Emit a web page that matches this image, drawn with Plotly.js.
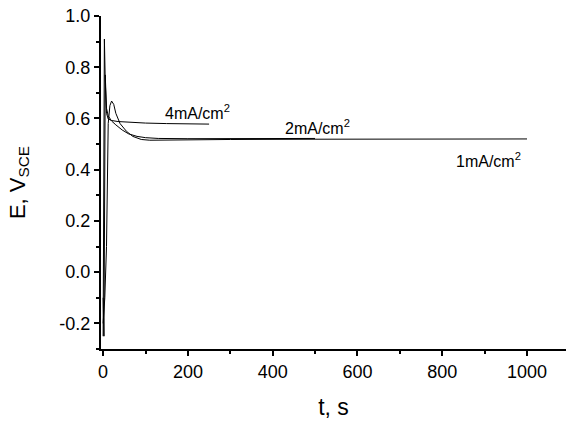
<!DOCTYPE html>
<html><head><meta charset="utf-8">
<script src="https://cdn.plot.ly/plotly-3.0.1.min.js"></script>
<style>html,body{margin:0;padding:0;background:#fff}</style>
</head><body><div id="chart" style="width:566px;height:421px"></div>
<script>
// 4 mA/cm2 series
const t4 = [0, 1, 3, 5, 8, 12, 20, 35, 60, 100, 150, 200, 250];
const e4 = [-0.25, 0.3, 0.91, 0.75, 0.62, 0.598, 0.592, 0.588, 0.585, 0.582, 0.580, 0.578, 0.578];
// 2 mA/cm2 series
const t2 = [0, 2, 5, 8, 12, 20, 30, 45, 60, 80, 100, 130, 200, 300, 400, 500];
const e2 = [-0.1, -0.25, 0.77, 0.64, 0.61, 0.59, 0.575, 0.555, 0.54, 0.53, 0.525, 0.522, 0.521, 0.522, 0.523, 0.522];
// 1 mA/cm2 series
const t1 = [0, 4, 8, 10, 12, 16, 20, 25, 30, 40, 55, 70, 90, 110, 150, 300, 500, 700, 1000];
const e1 = [-0.2, -0.1, 0.1, 0.45, 0.58, 0.65, 0.668, 0.655, 0.62, 0.58, 0.55, 0.53, 0.518, 0.515, 0.516, 0.518, 0.519, 0.52, 0.52];
// labels
const labelText = ["4mA/cm<sup>2</sup>", "2mA/cm<sup>2</sup>", "1mA/cm<sup>2</sup>"];
const labelT = [222, 505, 910];
const labelE = [0.625, 0.566, 0.437];
const yTickVals = [-0.2, 0.0, 0.2, 0.4, 0.6, 0.8, 1.0];
const yTickText = ["-0.2", "0.0", "0.2", "0.4", "0.6", "0.8", "1.0"];
const xTickVals = [0, 200, 400, 600, 800, 1000];

const lineStyle = {color: '#000', width: 1};
const traces = [
  {x: t4, y: e4, mode: 'lines', line: lineStyle, hoverinfo: 'skip'},
  {x: t2, y: e2, mode: 'lines', line: lineStyle, hoverinfo: 'skip'},
  {x: t1, y: e1, mode: 'lines', line: lineStyle, hoverinfo: 'skip'}
];
const font = {family: 'Liberation Sans, Arial, sans-serif', color: '#000'};
const annotations = labelText.map((s, i) => ({
  x: labelT[i], y: labelE[i], xref: 'x', yref: 'y', text: s, showarrow: false,
  font: Object.assign({size: 16}, font)
}));
const layout = {
  width: 566, height: 421,
  margin: {l: 101, r: 0, t: 16, b: 72},
  paper_bgcolor: '#fff', plot_bgcolor: '#fff',
  showlegend: false,
  font: Object.assign({size: 18}, font),
  xaxis: {
    range: [-5, 1092], showgrid: false, zeroline: false,
    showline: true, linecolor: '#000', linewidth: 2,
    ticks: 'outside', ticklen: 5, tickwidth: 2, tickcolor: '#000',
    tickvals: xTickVals,
    minor: {dtick: 100, tick0: 0, ticks: 'outside', ticklen: 3, tickwidth: 2, tickcolor: '#000'},
    tickfont: Object.assign({size: 18}, font),
    title: {text: 't, s', font: Object.assign({size: 23}, font), standoff: 18}
  },
  yaxis: {
    range: [-0.3, 1.0], showgrid: false, zeroline: false,
    showline: true, linecolor: '#000', linewidth: 2,
    ticks: 'outside', ticklen: 5, tickwidth: 2, tickcolor: '#000',
    tickvals: yTickVals, ticktext: yTickText,
    minor: {dtick: 0.1, tick0: 0, ticks: 'outside', ticklen: 3, tickwidth: 2, tickcolor: '#000'},
    tickfont: Object.assign({size: 18}, font),
    title: {text: 'E, V<sub>SCE</sub>', font: Object.assign({size: 22}, font), standoff: 28}
  },
  annotations: annotations
};
Plotly.newPlot('chart', traces, layout, {displayModeBar: false, staticPlot: true});
</script></body></html>
